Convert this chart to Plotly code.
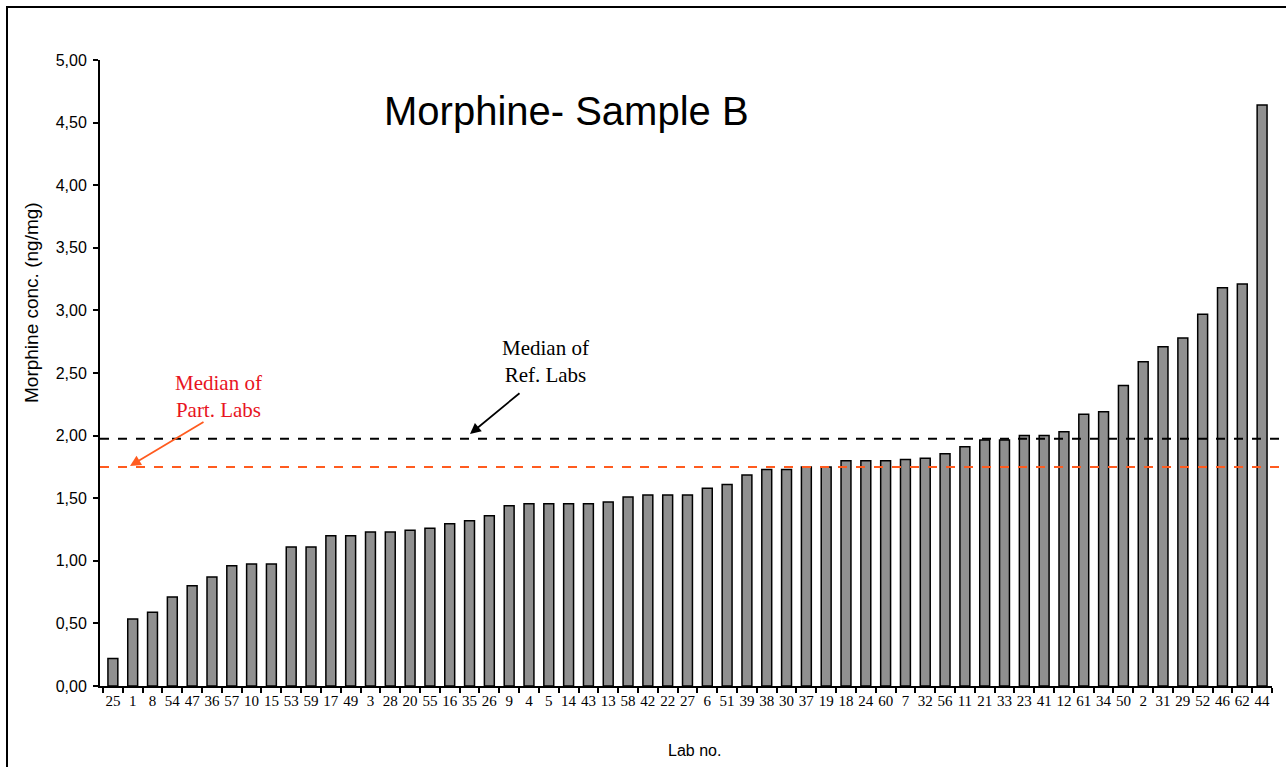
import plotly.graph_objects as go

labs = ["25","1","8","54","47","36","57","10","15","53","59","17","49","3","28","20","55","16","35","26",
        "9","4","5","14","43","13","58","42","22","27","6","51","39","38","30","37","19","18","24","60",
        "7","32","56","11","21","33","23","41","12","61","34","50","2","31","29","52","46","62","44"]
conc = [0.22,0.535,0.59,0.71,0.80,0.87,0.96,0.975,0.975,1.11,1.11,1.20,1.20,1.23,1.23,1.245,1.26,1.295,1.32,1.36,
        1.44,1.455,1.455,1.455,1.455,1.47,1.51,1.525,1.525,1.525,1.58,1.61,1.685,1.73,1.73,1.75,1.75,1.80,1.80,1.80,
        1.81,1.82,1.855,1.91,1.965,1.965,2.00,2.00,2.03,2.17,2.19,2.40,2.59,2.71,2.78,2.97,3.18,3.21,4.64]
median_ref = 1.975
median_part = 1.75
y_ticks = [0, 0.5, 1, 1.5, 2, 2.5, 3, 3.5, 4, 4.5, 5]

W, H = 1286, 767
L, R, T, B = 100, 14, 60, 81
PW, PH = W - L - R, H - T - B

def px(x):  # screen pixel -> paper x
    return (x - L) / PW

def py(y):  # screen pixel -> paper y
    return (H - B - y) / PH

fig = go.Figure()
fig.add_trace(go.Bar(
    x=labs, y=conc, width=0.5,
    marker=dict(color="#909090", line=dict(color="black", width=1.5)),
    hoverinfo="skip",
))

shapes = [
    dict(type="line", xref="paper", yref="y", x0=0, x1=px(1285), y0=median_ref, y1=median_ref,
         line=dict(color="black", width=2, dash="dash")),
    dict(type="line", xref="paper", yref="y", x0=0, x1=px(1285), y0=median_part, y1=median_part,
         line=dict(color="#ff5b1f", width=2, dash="dash")),
    dict(type="rect", xref="paper", yref="paper", x0=px(7), x1=px(1300), y0=py(790), y1=py(7),
         line=dict(color="black", width=2), fillcolor="rgba(0,0,0,0)", layer="above"),
]

def txt(text, x, y, size, family, color="black", angle=0):
    return dict(text=text, xref="paper", yref="paper", x=px(x), y=py(y),
                xanchor="center", yanchor="middle", showarrow=False, textangle=angle,
                font=dict(family=family, size=size, color=color))

SANS = "Liberation Sans, Arial"
SERIF = "Liberation Serif, Times New Roman"

annotations = [
    txt("Morphine- Sample B", 566, 111, 40, SANS),
    txt("Median of<br>Ref. Labs", 545, 361, 21, SERIF),
    txt("Median of<br>Part. Labs", 218, 396, 21, SERIF, "#e8141e"),
    txt("Morphine conc. (ng/mg)", 31, 303, 19, SANS, angle=-90),
    txt("Lab no.", 695, 750, 16, SANS),
    dict(text="", xref="paper", yref="paper", x=px(470), y=py(434), axref="pixel", ayref="pixel",
         ax=521 - 470, ay=392 - 434, showarrow=True, arrowhead=2, arrowsize=1.2, arrowwidth=1.8,
         arrowcolor="black"),
    dict(text="", xref="paper", yref="paper", x=px(130), y=py(466), axref="pixel", ayref="pixel",
         ax=205 - 130, ay=421 - 466, showarrow=True, arrowhead=2, arrowsize=1.2, arrowwidth=1.8,
         arrowcolor="#ff5b1f"),
]

fig.update_layout(
    width=W, height=H,
    margin=dict(l=L, r=R, t=T, b=B, pad=0),
    paper_bgcolor="white", plot_bgcolor="white",
    separators=", ",
    showlegend=False,
    shapes=shapes,
    annotations=annotations,
)
fig.update_xaxes(
    type="category", range=[-0.65, 58.5],
    showline=True, linecolor="black", linewidth=2,
    ticks="outside", tickson="boundaries", ticklen=5, tickcolor="black", tickwidth=1.5,
    tickangle=0,
    tickfont=dict(family=SERIF, size=15, color="black"),
    showgrid=False, zeroline=False, fixedrange=True,
)
fig.update_yaxes(
    range=[0, 5], tickvals=y_ticks, tickformat=".2f",
    showline=True, linecolor="black", linewidth=2,
    ticks="outside", ticklen=5, tickcolor="black", tickwidth=1.5, ticklabelstandoff=3,
    tickfont=dict(family=SANS, size=16, color="black"),
    showgrid=False, zeroline=False, fixedrange=True,
)

fig.write_html("out.html", config={"displayModeBar": False},
               post_script="document.body.style.margin='0';")
